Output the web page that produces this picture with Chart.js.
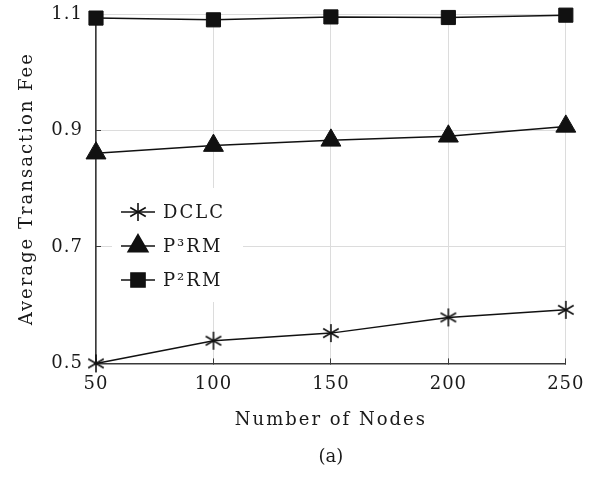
<!DOCTYPE html>
<html lang="en">
<head>
<meta charset="UTF-8">
<title>Average Transaction Fee</title>
<script src="https://cdn.jsdelivr.net/npm/chart.js"></script>
<style>
  body { margin: 0; background: #fff; }
  #wrap { width: 598px; height: 479px; }
</style>
</head>
<body>
<div id="wrap"><canvas id="feeChart" width="598" height="479"></canvas></div>
<script>
const nodes = [50, 100, 150, 200, 250];
const dclc = [0.500, 0.539, 0.552, 0.579, 0.592];
const p3rm = [0.861, 0.874, 0.883, 0.890, 0.907];
const p2rm = [1.093, 1.090, 1.095, 1.094, 1.098];
const yTicks = [0.5, 0.7, 0.9, 1.1];

const serif = "'DejaVu Serif', serif";
const ink = '#111';
const textInk = '#1a1a1a';

// six-armed asterisk marker
function asterisk(size) {
  const c = document.createElement('canvas');
  c.width = c.height = size;
  const g = c.getContext('2d');
  g.strokeStyle = ink;
  g.lineWidth = 1.6;
  const r = size / 2 - 1;
  for (const a of [90, 30, 150]) {
    const t = a * Math.PI / 180;
    g.beginPath();
    g.moveTo(size / 2 - r * Math.cos(t), size / 2 - r * Math.sin(t));
    g.lineTo(size / 2 + r * Math.cos(t), size / 2 + r * Math.sin(t));
    g.stroke();
  }
  return c;
}
const starMark = asterisk(20);

// wrap a scale draw step so its text gets some letter spacing
function spaced(scale, name, px) {
  const orig = scale[name];
  scale[name] = function () {
    this.ctx.save();
    this.ctx.letterSpacing = px;
    orig.apply(this, arguments);
    this.ctx.restore();
  };
}
const spacedText = {
  id: 'spacedText',
  afterLayout(chart) {
    for (const id of ['x', 'y']) {
      const s = chart.scales[id];
      if (s._spaced) continue;
      spaced(s, 'drawTitle', '2px');
      spaced(s, 'drawLabels', '1px');
      s._spaced = true;
    }
  }
};

// legend box sitting inside the plot area
const insetLegend = {
  id: 'insetLegend',
  box(chart) {
    const a = chart.chartArea;
    return { x: a.left + 16, y: a.top + 174, w: 131, h: 114 };
  },
  beforeDatasetsDraw(chart) {
    const b = this.box(chart);
    chart.ctx.save();
    chart.ctx.fillStyle = '#fff';
    chart.ctx.fillRect(b.x, b.y, b.w, b.h);
    chart.ctx.restore();
  },
  afterDatasetsDraw(chart) {
    const { ctx } = chart;
    const b = this.box(chart);
    ctx.save();
    chart.data.datasets.forEach((ds, i) => {
      const y = b.y + 24 + i * 34;
      ctx.strokeStyle = ink;
      ctx.lineWidth = 1.5;
      ctx.beginPath();
      ctx.moveTo(b.x + 9, y);
      ctx.lineTo(b.x + 43, y);
      ctx.stroke();
      ctx.fillStyle = ink;
      Chart.helpers.drawPoint(ctx, {
        pointStyle: ds.pointStyle,
        radius: ds.pointRadius,
        rotation: 0,
        borderWidth: 1
      }, b.x + 26, y);
      ctx.fillStyle = textInk;
      ctx.font = '18px ' + serif;
      ctx.letterSpacing = '2px';
      ctx.textBaseline = 'middle';
      ctx.textAlign = 'left';
      ctx.fillText(ds.label, b.x + 51, y + 1);
      ctx.letterSpacing = '0px';
    });
    ctx.restore();
  }
};

function series(label, values, style, radius) {
  return {
    label: label,
    data: values,
    borderColor: ink,
    backgroundColor: ink,
    borderWidth: 1.5,
    pointStyle: style,
    pointRadius: radius,
    pointHoverRadius: radius,
    pointBorderWidth: 1,
    pointBorderColor: ink,
    pointBackgroundColor: ink,
    tension: 0,
    clip: false
  };
}

new Chart(document.getElementById('feeChart'), {
  type: 'line',
  data: {
    labels: nodes,
    datasets: [
      series('DCLC', dclc, starMark, 10),
      series('P³RM', p3rm, 'triangle', 11.5),
      series('P²RM', p2rm, 'rect', 10)
    ]
  },
  options: {
    responsive: false,
    animation: false,
    events: [],
    layout: { padding: { top: 14, right: 32, left: 0, bottom: 0 } },
    plugins: {
      legend: { display: false },
      tooltip: { enabled: false },
      title: {
        display: true,
        position: 'bottom',
        fullSize: false,
        text: '(a)',
        color: textInk,
        font: { family: serif, size: 18, weight: 'normal', lineHeight: 1.2 },
        padding: { top: 0, bottom: 11 }
      }
    },
    scales: {
      x: {
        type: 'category',
        offset: false,
        grid: { color: '#dcdcdc', lineWidth: 1, tickLength: -5, tickColor: '#3a3a3a' },
        border: { color: '#3a3a3a', width: 1.6 },
        ticks: { color: textInk, font: { family: serif, size: 18 }, padding: 15, maxRotation: 0 },
        title: {
          display: true,
          text: 'Number of Nodes',
          color: textInk,
          font: { family: serif, size: 18, lineHeight: 1.2 },
          padding: { top: 0, bottom: 15 }
        },
        afterFit(s) { s.height = 83; }
      },
      y: {
        min: 0.5,
        max: 1.1,
        grid: { color: '#dcdcdc', lineWidth: 1, tickLength: -5, tickColor: '#3a3a3a' },
        border: { color: '#3a3a3a', width: 1.6 },
        afterBuildTicks(s) { s.ticks = yTicks.map(v => ({ value: v })); },
        ticks: {
          color: textInk,
          font: { family: serif, size: 18 },
          padding: 18,
          callback: v => v.toFixed(1)
        },
        title: {
          display: true,
          text: 'Average Transaction Fee',
          color: textInk,
          font: { family: serif, size: 18, lineHeight: 1.2 },
          padding: { top: 17, bottom: 0 }
        },
        afterFit(s) {
          s.width = 96;
          s.paddingTop = 10;
          s.paddingBottom = 10;
        }
      }
    }
  },
  plugins: [spacedText, insetLegend]
});
</script>
</body>
</html>
